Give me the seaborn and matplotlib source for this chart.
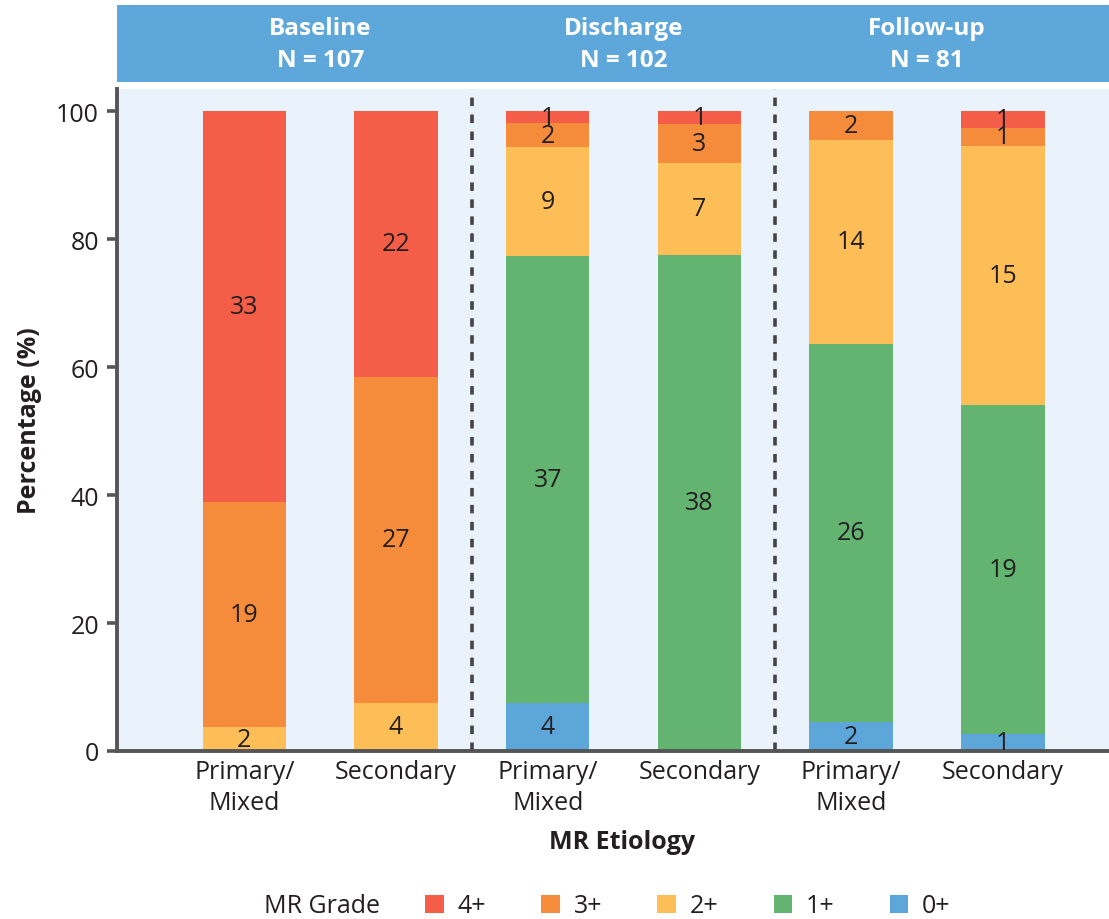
import numpy as np
import pandas as pd
import matplotlib
matplotlib.use("Agg")
import matplotlib.pyplot as plt
import seaborn as sns
from matplotlib.patches import Patch

# ---------------- data ----------------
phases = ["Baseline", "Discharge", "Follow-up"]
phase_n = [107, 102, 81]
bar_ids = ["BL_P", "BL_S", "DC_P", "DC_S", "FU_P", "FU_S"]
etiology_labels = ["Primary/\nMixed", "Secondary"] * 3
grade_labels = ["0+", "1+", "2+", "3+", "4+"]          # bottom -> top
grade_colors = ["#5ca6da", "#62b470", "#fdbd57", "#f58c3c", "#f45d48"]
counts_0 = [0, 0, 4, 0, 2, 1]
counts_1 = [0, 0, 37, 38, 26, 19]
counts_2 = [2, 4, 9, 7, 14, 15]
counts_3 = [19, 27, 2, 3, 2, 1]
counts_4 = [33, 22, 1, 1, 0, 1]
yticks = [0, 20, 40, 60, 80, 100]

counts = np.array([counts_0, counts_1, counts_2, counts_3, counts_4], dtype=float)
totals = counts.sum(axis=0)
pct = counts / totals * 100
cum = np.cumsum(pct, axis=0)

rows = []
for gi, g in enumerate(grade_labels):
    for bi, b in enumerate(bar_ids):
        rows.append({"bar": b, "grade": g, "count": counts[gi, bi],
                     "pct": pct[gi, bi], "cum": cum[gi, bi]})
df = pd.DataFrame(rows)

# ---------------- style ----------------
sns.set_style("white")
plt.rcParams["font.family"] = ["Open Sans", "DejaVu Sans"]
TXT = "#231f20"
AX = "#555555"
FS = 18

W, H = 1109, 920
fig = plt.figure(figsize=(W / 100, H / 100), dpi=100)
ax = fig.add_axes([117 / W, (H - 752) / H, 992 / W, 662 / H])
ax.set_facecolor("#eaf2fb")

# stacked bars: draw cumulative totals from the top grade downward
for gi in reversed(range(len(grade_labels))):
    sub = df[df["grade"] == grade_labels[gi]]
    sns.barplot(data=sub, x="bar", y="cum", order=bar_ids, color=grade_colors[gi],
                width=0.55, saturation=1, linewidth=0, errorbar=None, ax=ax)

# value labels
for gi in range(len(grade_labels)):
    for bi in range(len(bar_ids)):
        c = counts[gi, bi]
        if c > 0:
            y = cum[gi, bi] - pct[gi, bi] / 2
            ax.text(bi, y, f"{int(c)}", ha="center", va="center",
                    fontsize=FS, color=TXT)

ax.set_xlim(-0.84, 5.70)
ax.set_ylim(0, 103.44)
ax.set_yticks(yticks)
ax.set_yticklabels([str(t) for t in yticks])
ax.set_xticks(range(len(bar_ids)))
ax.set_xticklabels(etiology_labels, linespacing=1.3)

for x in [1.5, 3.5]:
    ax.axvline(x, color="#444444", lw=2.6, ls=(0, (2.35, 2.35)))

for s in ["top", "right"]:
    ax.spines[s].set_visible(False)
for s in ["left", "bottom"]:
    ax.spines[s].set_color(AX)
    ax.spines[s].set_linewidth(2.8)

ax.tick_params(axis="y", which="both", left=True, length=7, width=2.6, color=AX,
               labelsize=FS, labelcolor=TXT, pad=6)
ax.tick_params(axis="x", which="both", bottom=False, length=0,
               labelsize=FS, labelcolor=TXT, pad=6)

ax.set_xlabel("MR Etiology", fontsize=FS, fontweight="bold", color=TXT)
ax.xaxis.set_label_coords((622 - 117) / 992, (752 - 830) / 662)
ax.set_ylabel("Percentage (%)", fontsize=FS, fontweight="bold", color=TXT)
ax.yaxis.set_label_coords((42 - 117) / 992, 0.5)

# header band
hax = fig.add_axes([117 / W, (H - 83) / H, 992 / W, 77 / H])
hax.set_facecolor("#5ea7da")
hax.set_xlim(ax.get_xlim())
hax.set_ylim(0, 1)
hax.set_xticks([])
hax.set_yticks([])
for s in hax.spines.values():
    s.set_visible(False)
for i, (p, n) in enumerate(zip(phases, phase_n)):
    hax.text(2 * i + 0.5, 0.49, f"{p}\nN = {n}", ha="center", va="center",
             color="white", fontsize=17.5, fontweight="bold", linespacing=1.45)

# legend
handles = [Patch(facecolor=grade_colors[gi], edgecolor="none", label=grade_labels[gi])
           for gi in reversed(range(len(grade_labels)))]
fig.legend(handles=handles, loc="center", bbox_to_anchor=(688 / W, (H - 907) / H),
           ncol=5, frameon=False, fontsize=FS, handlelength=0.75, handleheight=0.75,
           handletextpad=0.55, columnspacing=2.2, labelcolor=TXT)
fig.text(322 / W, (H - 907) / H, "MR Grade", ha="center", va="center",
         fontsize=FS, color=TXT)

fig.savefig("out.png", dpi=100)
